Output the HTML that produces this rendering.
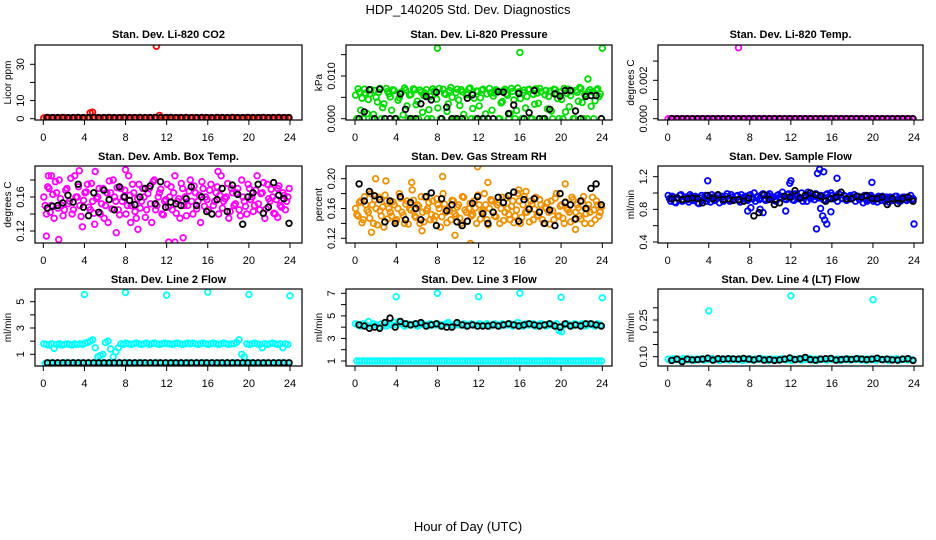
<!DOCTYPE html>
<html><head><meta charset="utf-8">
<style>
html,body{margin:0;padding:0;background:#fff;}
svg{display:block;font-family:"Liberation Sans",Arial,sans-serif;}
</style></head>
<body>
<svg id="chart" width="936" height="540" viewBox="0 0 936 540" xmlns="http://www.w3.org/2000/svg">
<text x="468" y="14" text-anchor="middle" font-size="13">HDP_140205  Std. Dev. Diagnostics</text>
<text x="468" y="531" text-anchor="middle" font-size="13">Hour of Day (UTC)</text>
</svg>
<script>
// ---------- DATA ----------
const xTicks = [0,4,8,12,16,20,24];
const xTickLabels = ["0","4","8","12","16","20","24"];

const co2Red = [0.4,0.6,0.5,0.5,0.6,0.4,0.5,0.5,0.6,0.5,0.4,0.5,0.5,0.6,0.5,0.4,0.5,0.5,3.2,3.6,0.6,0.5,0.4,0.5,0.5,0.6,0.5,0.5,0.4,0.5,0.6,0.5,0.5,0.4,0.5,0.6,0.5,0.5,0.4,0.5,0.5,0.6,0.5,0.5,0.4,1.8,0.5,0.5,0.6,0.5,0.4,0.5,0.5,0.6,0.5,0.5,0.4,0.5,0.6,0.5,0.5,0.4,0.5,0.6,0.5,0.5,0.4,0.5,0.5,0.6,0.5,0.5,0.4,0.5,0.6,0.5,0.5,0.4,0.5,0.6,0.5,0.5,0.4,0.5,0.6,0.5,0.5,0.4,0.5,0.6,0.5,0.5,0.4,0.5,0.6,0.5];
const co2OutT = [11.0]; const co2OutV = [40];
const co2Black = [0.7,0.6,0.6,0.7,0.6,0.6,0.7,0.6,0.6,0.7,0.6,0.6,0.7,0.6,0.6,0.7,0.6,0.6,0.7,0.6,0.6,0.7,0.6,0.6,0.7,0.6,0.6,0.7,0.6,0.6,0.7,0.6,0.6,0.7,0.6,0.6,0.7,0.6,0.6,0.7,0.6,0.6,0.7,0.6,0.6,0.7,0.6,0.6];

const presGreen = [0.0055,0.007,0.002,0,0.006,0.0045,0.0068,0.001,0.005,0.0062,0,0.0035,0.0071,0.0058,0.002,0.0066,0,0.0049,0.0063,0.0072,0.003,0.0055,0,0.0068,0.0041,0.0067,0.0015,0.006,0,0.0052,0.007,0.0064,0.0025,0,0.0069,0.0057,0.0035,0.0073,0,0.0061,0.0044,0.0068,0.001,0.0056,0.007,0,0.0048,0.0065,0.003,0.0067,0,0.0058,0.0071,0.002,0.006,0.0066,0,0.004,0.0069,0.0055,0.0012,0.0064,0,0.0072,0.0047,0.0061,0.0025,0.0068,0,0.0057,0.007,0.0036,0.0063,0,0.0066,0.0052,0.0018,0.0069,0.006,0,0.0045,0.0071,0.0059,0.0028,0.0065,0,0.0062,0.0073,0.0038,0.0056,0,0.0068,0.0063,0.0042,0.007,0.0058];
const presGreen2 = [0,0.0062,0.0048,0.0069,0.0012,0.0058,0,0.0066,0.0039,0.0071,0.0026,0,0.0064,0.0051,0.0068,0,0.0043,0.0061,0.0009,0.0067,0,0.0057,0.007,0.0033,0,0.0062,0.0054,0.0068,0.0021,0,0.0065,0.0046,0.0071,0,0.0059,0.0017,0.0066,0.005,0,0.0069,0.0031,0.0063,0,0.0056,0.0072,0.0024,0,0.0064,0.0049,0.0069,0.0011,0,0.0061,0.0053,0.0068,0,0.0037,0.0066,0.0058,0,0.0071,0.0044,0.0019,0.0063,0,0.0067,0.0052,0.0069,0,0.0034,0.006,0.0071,0,0.0056,0.0023,0.0065,0,0.0068,0.0047,0.0062,0,0.0016,0.0069,0.0054,0,0.0066,0.0041,0.0071,0,0.0058,0.0063,0.0029,0,0.0067,0.0052,0];
const presOutT = [8.0,16.0,22.6,24.0]; const presOutV = [0.0165,0.0155,0.0093,0.0165];
const presBlack = [0,0.0016,0.0068,0,0.0069,0,0,0,0.0058,0.0022,0,0,0.0035,0.0052,0.0044,0.0062,0,0.0027,0,0,0,0.0048,0.0056,0,0,0,0,0.0063,0.0062,0.0012,0.0032,0.0059,0,0.0014,0.0066,0,0,0.0022,0.0058,0.0053,0.0066,0.0066,0.0018,0,0.0052,0.0054,0.0054,0];

const tempMag = [0,0,0,0,0,0,0,0,0,0,0,0,0,0,0,0,0,0,0,0,0,0,0,0,0,0,0,0,0,0,0,0,0,0,0,0,0,0,0,0,0,0,0,0,0,0,0,0,0,0,0,0,0,0,0,0,0,0,0,0,0,0,0,0,0,0,0,0,0,0,0,0,0,0,0,0,0,0,0,0,0,0,0,0,0,0,0,0,0,0,0,0,0,0,0,0];
const tempOutT = [6.9]; const tempOutV = [0.0037];
const tempBlack = [0,0,0,0,0,0,0,0,0,0,0,0,0,0,0,0,0,0,0,0,0,0,0,0,0,0,0,0,0,0,0,0,0,0,0,0,0,0,0,0,0,0,0,0,0,0,0,0];

const boxMag = [0.16,0.14,0.17,0.15,0.135,0.165,0.18,0.15,0.145,0.17,0.155,0.14,0.185,0.16,0.15,0.125,0.165,0.175,0.145,0.155,0.19,0.16,0.14,0.17,0.15,0.13,0.165,0.18,0.155,0.145,0.17,0.16,0.14,0.185,0.15,0.165,0.135,0.175,0.155,0.16,0.145,0.17,0.13,0.18,0.15,0.165,0.14,0.155,0.175,0.16,0.145,0.185,0.155,0.135,0.17,0.16,0.15,0.18,0.14,0.165,0.155,0.13,0.17,0.16,0.145,0.175,0.15,0.165,0.14,0.185,0.155,0.16,0.135,0.17,0.15,0.165,0.145,0.18,0.155,0.14,0.17,0.16,0.15,0.185,0.145,0.165,0.135,0.175,0.155,0.16,0.14,0.17,0.15,0.165,0.145,0.16];
const boxMag2 = [0.15,0.172,0.142,0.163,0.178,0.147,0.158,0.138,0.168,0.152,0.182,0.145,0.16,0.172,0.137,0.156,0.166,0.148,0.176,0.141,0.158,0.17,0.152,0.135,0.165,0.179,0.146,0.16,0.171,0.139,0.155,0.168,0.15,0.162,0.175,0.143,0.158,0.147,0.17,0.136,0.164,0.152,0.178,0.145,0.16,0.169,0.139,0.157,0.148,0.172,0.165,0.141,0.158,0.176,0.15,0.138,0.167,0.155,0.173,0.146,0.162,0.178,0.149,0.157,0.168,0.14,0.155,0.172,0.162,0.147,0.158,0.176,0.143,0.165,0.152,0.17,0.138,0.16,0.149,0.175,0.157,0.143,0.168,0.152,0.164,0.177,0.146,0.158,0.169,0.141,0.157,0.173,0.148,0.162,0.155,0.17];
const boxOutT = [0.3,1.5,3.5,5.0,8.0,8.5,12.2,12.8,13.6,7.1,9.2,0.5,0.8,17.0,22.8]; const boxOutV = [0.114,0.110,0.191,0.128,0.192,0.13,0.107,0.107,0.112,0.118,0.122,0.185,0.185,0.19,0.136];
const boxBlack = [0.147,0.149,0.150,0.153,0.162,0.154,0.175,0.148,0.138,0.165,0.142,0.168,0.157,0.145,0.172,0.160,0.156,0.151,0.160,0.170,0.173,0.152,0.178,0.148,0.154,0.152,0.150,0.158,0.172,0.150,0.160,0.143,0.140,0.157,0.170,0.143,0.174,0.163,0.128,0.160,0.165,0.175,0.141,0.148,0.177,0.162,0.158,0.129];

const rhOrg = [0.16,0.15,0.17,0.145,0.165,0.155,0.18,0.14,0.16,0.175,0.15,0.135,0.17,0.16,0.15,0.165,0.145,0.18,0.155,0.14,0.17,0.16,0.185,0.15,0.165,0.14,0.155,0.175,0.16,0.145,0.17,0.15,0.165,0.135,0.18,0.155,0.16,0.145,0.17,0.15,0.165,0.14,0.175,0.155,0.16,0.15,0.17,0.14,0.165,0.155,0.18,0.145,0.16,0.17,0.15,0.165,0.14,0.175,0.155,0.16,0.145,0.17,0.15,0.18,0.14,0.165,0.155,0.16,0.17,0.145,0.175,0.15,0.165,0.14,0.16,0.155,0.17,0.145,0.18,0.15,0.165,0.14,0.16,0.155,0.175,0.145,0.165,0.15,0.17,0.14,0.16,0.155,0.175,0.145,0.165,0.155];
const rhOrg2 = [0.152,0.168,0.141,0.176,0.158,0.147,0.165,0.172,0.138,0.157,0.162,0.178,0.146,0.155,0.169,0.143,0.16,0.174,0.151,0.166,0.139,0.158,0.171,0.148,0.163,0.176,0.142,0.157,0.168,0.152,0.145,0.173,0.16,0.149,0.166,0.141,0.157,0.171,0.153,0.162,0.147,0.176,0.158,0.143,0.167,0.152,0.161,0.178,0.146,0.157,0.165,0.138,0.172,0.155,0.149,0.168,0.16,0.144,0.174,0.152,0.163,0.141,0.158,0.17,0.148,0.176,0.155,0.142,0.166,0.159,0.151,0.172,0.145,0.162,0.168,0.139,0.157,0.174,0.15,0.163,0.147,0.169,0.158,0.142,0.172,0.155,0.161,0.146,0.176,0.153,0.165,0.14,0.158,0.17,0.15,0.162];
const rhOutT = [2.0,3.0,5.5,8.5,9.7,11.2,11.9,12.9,15.9,16.6,20.4,1.6,6.5,21.4]; const rhOutV = [0.2,0.197,0.195,0.203,0.124,0.113,0.216,0.195,0.185,0.183,0.193,0.128,0.13,0.132];
const rhBlack = [0.193,0.170,0.183,0.177,0.172,0.142,0.170,0.140,0.176,0.145,0.168,0.160,0.145,0.176,0.181,0.137,0.173,0.157,0.165,0.142,0.137,0.143,0.167,0.176,0.153,0.140,0.155,0.175,0.168,0.177,0.182,0.143,0.172,0.159,0.173,0.155,0.140,0.158,0.137,0.180,0.168,0.165,0.146,0.170,0.160,0.187,0.193,0.165];

const flowBlue = [0.97,0.9,0.95,0.88,0.93,0.98,0.91,0.95,0.89,0.96,0.92,0.94,0.87,0.97,0.93,0.9,0.95,0.98,0.91,0.94,0.88,0.96,0.93,0.99,0.9,0.95,0.92,0.97,0.89,0.94,0.96,0.91,0.98,0.93,0.9,0.96,0.94,0.99,0.91,0.97,0.93,0.95,0.9,0.98,0.94,0.96,0.92,0.99,0.95,0.91,0.97,0.93,1.0,0.94,0.9,0.97,0.95,0.92,0.98,0.94,0.96,0.91,0.99,0.93,0.97,0.95,0.9,0.98,0.93,0.96,0.92,0.97,0.94,0.9,0.96,0.93,0.88,0.95,0.92,0.97,0.9,0.94,0.96,0.91,0.93,0.95,0.89,0.94,0.92,0.96,0.9,0.93,0.95,0.91,0.94,0.92];
const flowBlue2 = [0.93,0.96,0.89,0.94,0.97,0.9,0.95,0.92,0.98,0.91,0.96,0.88,0.94,0.91,0.97,0.93,0.89,0.95,0.92,0.97,0.94,0.9,0.96,0.92,0.98,0.93,0.96,0.91,0.98,0.95,0.92,0.97,0.94,1.0,0.95,0.92,0.98,0.93,0.96,0.99,0.94,0.91,0.97,0.95,1.01,0.93,0.98,0.95,0.92,0.99,0.96,0.94,0.9,0.98,1.01,0.93,0.96,0.99,0.94,0.97,0.92,0.98,0.95,1.0,0.93,0.96,0.99,0.94,0.97,0.91,0.95,0.93,0.98,0.96,0.92,0.95,0.97,0.9,0.93,0.95,0.92,0.89,0.94,0.96,0.9,0.93,0.95,0.91,0.96,0.93,0.9,0.95,0.92,0.94,0.97,0.93];
const flowOutT = [3.9,7.8,8.1,9.0,9.3,11.5,11.9,12.0,14.6,14.8,14.9,15.1,15.2,15.3,15.5,15.9,16.5,19.9,24.0,14.5]; const flowOutV = [1.15,0.78,0.82,0.8,0.76,0.78,1.12,1.15,1.24,1.29,0.81,0.72,1.26,0.67,0.62,0.77,1.18,1.13,0.62,0.56];
const flowBlack = [0.93,0.94,0.92,0.93,0.94,0.93,0.88,0.97,0.93,0.98,0.92,0.93,0.91,0.92,0.90,0.94,0.72,0.76,0.98,0.92,0.86,0.88,0.96,0.95,1.03,0.94,0.97,1.00,0.98,0.96,0.90,0.93,0.95,1.01,0.93,0.93,0.96,0.95,0.97,0.93,0.93,0.95,0.86,0.93,0.87,0.93,0.95,0.90];

const l2High = [1.8,1.75,1.7,1.8,1.45,1.75,1.8,1.7,1.75,1.8,1.75,1.7,1.8,1.75,1.8,1.75,1.85,1.9,2.0,2.1,1.5,0.8,0.9,1.0,1.9,2.0,1.4,0.8,1.2,1.5,1.8,1.75,1.85,1.8,1.75,1.8,1.85,1.8,1.75,1.8,1.85,1.75,1.8,1.85,1.8,1.75,1.8,1.85,1.8,1.8,1.75,1.8,1.85,1.8,1.75,1.8,1.85,1.8,1.85,1.8,1.75,1.8,1.85,1.8,1.75,1.8,1.85,1.8,1.75,1.8,1.85,1.8,1.75,1.8,1.8,1.9,2.1,1.0,0.8,1.8,1.75,1.8,1.85,1.8,1.75,1.5,1.8,1.75,1.8,1.85,1.8,1.75,1.8,1.5,1.8,1.75];
const l2Low = [0.3,0.3,0.35,0.3,0.3,0.35,0.3,0.3,0.35,0.3,0.3,0.35,0.3,0.3,0.35,0.3,0.3,0.35,0.3,0.3,0.35,0.3,0.3,0.35,0.3,0.3,0.35,0.3,0.3,0.35,0.3,0.3,0.35,0.3,0.3,0.35,0.3,0.3,0.35,0.3,0.3,0.35,0.3,0.3,0.35,0.3,0.3,0.35,0.3,0.3,0.35,0.3,0.3,0.35,0.3,0.3,0.35,0.3,0.3,0.35,0.3,0.3,0.35,0.3,0.3,0.35,0.3,0.3,0.35,0.3,0.3,0.35,0.3,0.3,0.35,0.3,0.3,0.35,0.3,0.3,0.35,0.3,0.3,0.35,0.3,0.3,0.35,0.3,0.3,0.35,0.3,0.3,0.35,0.3,0.3,0.35];
const l2OutT = [4,8,12,16,20,24]; const l2OutV = [5.55,5.7,5.5,5.72,5.55,5.45];
const l2Black = [0.35,0.35,0.35,0.35,0.35,0.35,0.35,0.35,0.35,0.35,0.35,0.35,0.35,0.35,0.35,0.35,0.35,0.35,0.35,0.35,0.35,0.35,0.35,0.35,0.35,0.35,0.35,0.35,0.35,0.35,0.35,0.35,0.35,0.35,0.35,0.35,0.35,0.35,0.35,0.35,0.35,0.35,0.35,0.35,0.35,0.35,0.35,0.35];

const l3High = [4.3,4.2,4.1,4.3,4.2,4.5,4.1,4.3,4.2,4.0,4.3,4.2,4.1,4.3,4.2,4.4,4.2,4.5,4.3,4.1,4.3,4.2,4.2,4.3,4.1,4.2,4.3,4.2,4.1,4.3,4.2,4.2,4.3,4.1,4.2,4.3,4.4,4.2,4.1,4.3,4.2,4.2,4.3,4.1,4.2,4.3,4.2,4.1,4.3,4.2,4.2,4.3,4.1,4.2,4.3,4.2,4.1,4.3,4.2,4.2,4.3,4.1,4.2,4.4,4.2,4.1,4.3,4.2,4.2,4.3,4.1,4.2,4.3,4.2,4.1,4.3,4.2,4.2,4.3,3.7,3.6,4.2,4.3,4.2,4.1,4.3,4.2,4.2,4.3,4.1,4.2,4.3,4.2,4.1,4.3,4.2];
const l3Low = [1,1,1,1,1,1,1,1,1,1,1,1,1,1,1,1,1,1,1,1,1,1,1,1,1,1,1,1,1,1,1,1,1,1,1,1,1,1,1,1,1,1,1,1,1,1,1,1,1,1,1,1,1,1,1,1,1,1,1,1,1,1,1,1,1,1,1,1,1,1,1,1,1,1,1,1,1,1,1,1,1,1,1,1,1,1,1,1,1,1,1,1,1,1,1,1];
const l3OutT = [4,8,12,16,20,24]; const l3OutV = [6.7,7.0,6.7,7.0,6.65,6.6];
const l3Black = [4.2,4.1,3.9,4.0,3.9,4.4,4.8,4.0,4.5,4.3,4.2,4.3,4.4,4.1,4.2,4.3,4.1,4.0,4.0,4.4,4.2,4.1,4.2,4.1,4.1,4.1,4.2,4.1,4.2,4.3,4.2,4.1,4.2,4.3,4.2,4.1,4.2,4.3,4.1,4.0,4.3,4.1,4.2,4.1,4.3,4.3,4.2,4.1];

const l4Cyan = [0.09,0.085,0.092,0.088,0.09,0.086,0.093,0.089,0.087,0.091,0.085,0.09,0.088,0.092,0.086,0.09,0.089,0.093,0.087,0.09,0.085,0.091,0.088,0.09,0.086,0.092,0.089,0.087,0.091,0.085,0.09,0.088,0.092,0.086,0.09,0.089,0.093,0.087,0.09,0.085,0.091,0.088,0.09,0.086,0.092,0.089,0.087,0.091,0.085,0.09,0.088,0.092,0.086,0.09,0.089,0.093,0.087,0.09,0.085,0.091,0.088,0.09,0.086,0.092,0.089,0.087,0.091,0.085,0.09,0.088,0.092,0.086,0.09,0.089,0.093,0.087,0.09,0.085,0.091,0.088,0.09,0.086,0.092,0.089,0.087,0.091,0.085,0.09,0.088,0.092,0.086,0.09,0.089,0.087,0.091,0.088];
const l4OutT = [4.0,12.0,20.0]; const l4OutV = [0.287,0.349,0.333];
const l4Black = [0.085,0.09,0.08,0.09,0.087,0.088,0.09,0.094,0.086,0.092,0.09,0.092,0.091,0.09,0.093,0.09,0.087,0.092,0.086,0.088,0.085,0.087,0.09,0.095,0.088,0.091,0.097,0.088,0.086,0.09,0.092,0.093,0.086,0.088,0.09,0.089,0.092,0.09,0.088,0.09,0.094,0.088,0.09,0.087,0.086,0.09,0.092,0.085];

// ---------- LAYOUT ----------
const cols = [{L:35,R:302,x0:43.3,x24:290},{L:346,R:612,x0:355,x24:602.3},{L:658,R:923,x0:667.7,x24:914}];
const rows = [{T:45,B:120,title:34},{T:166,B:243,title:156},{T:289,B:366,title:279}];
const colorMap = {red:"#ff0000",green:"#00dd00",mag:"#ff00ff",org:"#f09000",blue:"#0000ff",cyan:"#00ffff"};

const panels = [
 {name:"co2",title:"Stan. Dev. Li-820 CO2",ylab:"Licor ppm",c:0,r:0,v0:0,p0:118.7,v1:30,p1:64.3,ticks:[0,10,20,30],labs:{0:"0",10:"10",30:"30"},col:"red",series:[co2Red],outT:co2OutT,outV:co2OutV,black:co2Black},
 {name:"pressure",title:"Stan. Dev. Li-820 Pressure",ylab:"kPa",c:1,r:0,v0:0,p0:118.7,v1:0.01,p1:76,ticks:[0,0.005,0.01,0.015],labs:{0:"0.000",0.01:"0.010"},col:"green",series:[presGreen,presGreen2],outT:presOutT,outV:presOutV,black:presBlack},
 {name:"temp",title:"Stan. Dev. Li-820 Temp.",ylab:"degrees C",c:2,r:0,v0:0,p0:118.7,v1:0.002,p1:80.3,ticks:[0,0.001,0.002,0.003],labs:{0:"0.000",0.002:"0.002"},col:"mag",series:[tempMag],outT:tempOutT,outV:tempOutV,black:tempBlack},
 {name:"box-temp",title:"Stan. Dev. Amb. Box Temp.",ylab:"degrees C",c:0,r:1,v0:0.12,p0:231,v1:0.16,p1:197,ticks:[0.12,0.14,0.16,0.18],labs:{0.12:"0.12",0.16:"0.16"},col:"mag",series:[boxMag,boxMag2],outT:boxOutT,outV:boxOutV,black:boxBlack},
 {name:"rh",title:"Stan. Dev. Gas Stream RH",ylab:"percent",c:1,r:1,v0:0.12,p0:238.3,v1:0.2,p1:178.7,ticks:[0.12,0.14,0.16,0.18,0.2],labs:{0.12:"0.12",0.16:"0.16",0.2:"0.20"},col:"org",series:[rhOrg,rhOrg2],outT:rhOutT,outV:rhOutV,black:rhBlack},
 {name:"sample-flow",title:"Stan. Dev. Sample Flow",ylab:"ml/min",c:2,r:1,v0:0.4,p0:242,v1:1.2,p1:176.7,ticks:[0.4,0.6,0.8,1.0,1.2],labs:{0.4:"0.4",0.8:"0.8",1.2:"1.2"},col:"blue",series:[flowBlue,flowBlue2],outT:flowOutT,outV:flowOutV,black:flowBlack},
 {name:"line2",title:"Stan. Dev. Line 2 Flow",ylab:"ml/min",c:0,r:2,v0:1,p0:354.3,v1:5,p1:301.7,ticks:[1,2,3,4,5],labs:{1:"1",3:"3",5:"5"},col:"cyan",series:[l2High,l2Low],outT:l2OutT,outV:l2OutV,black:l2Black},
 {name:"line3",title:"Stan. Dev. Line 3 Flow",ylab:"ml/min",c:1,r:2,v0:1,p0:361,v1:7,p1:293.3,ticks:[1,2,3,4,5,6,7],labs:{1:"1",3:"3",5:"5",7:"7"},col:"cyan",series:[l3High,l3Low],outT:l3OutT,outV:l3OutV,black:l3Black},
 {name:"line4",title:"Stan. Dev. Line 4 (LT) Flow",ylab:"ml/min",c:2,r:2,v0:0.1,p0:356.7,v1:0.25,p1:320,ticks:[0.1,0.15,0.2,0.25,0.3],labs:{0.1:"0.10",0.25:"0.25"},col:"cyan",series:[l4Cyan],outT:l4OutT,outV:l4OutV,black:l4Black}
];

const NS = "http://www.w3.org/2000/svg";
const svg = document.getElementById("chart");
function el(tag, parent){ const e=document.createElementNS(NS,tag); parent.appendChild(e); return e; }

panels.forEach(p=>{
  const C=cols[p.c], R=rows[p.r];
  const xs = h => C.x0 + (C.x24-C.x0)*h/24;
  const ys = v => p.p0 + (p.p1-p.p0)*(v-p.v0)/(p.v1-p.v0);
  const g = el("g", svg);
  
  

  const clipId = "clip-"+p.name;
  const cp = el("clipPath", g); cp.setAttribute("id",clipId);
  const cr = el("rect", cp); cr.setAttribute("x",C.L); cr.setAttribute("y",R.T); cr.setAttribute("width",C.R-C.L); cr.setAttribute("height",R.B-R.T);

  const pts = el("g", g);
  
  
  pts.setAttribute("clip-path","url(#"+clipId+")");
  const color = colorMap[p.col];
  function dot(t,v,stroke,parent){
    const c = el("circle", parent);
    
    
    c.setAttribute("cx",xs(t).toFixed(1)); c.setAttribute("cy",ys(v).toFixed(1));
    c.setAttribute("r",2.8); c.setAttribute("fill","none");
    c.setAttribute("stroke",stroke); c.setAttribute("stroke-width",1.8);
  }
  p.series.forEach((arr,si)=>{
    const n = arr.length;
    arr.forEach((v,i)=>{ dot((i + (si%2?0.5:0)+0.2)*24/n, v, color, pts); });
  });
  p.outT.forEach((t,i)=>dot(t,p.outV[i],color,pts));
  p.black.forEach((v,i)=>dot((i+1)*24/p.black.length - 0.1, v, "#000", pts));

  const box = el("rect", g);
  
  
  box.setAttribute("x",C.L); box.setAttribute("y",R.T); box.setAttribute("width",C.R-C.L); box.setAttribute("height",R.B-R.T);
  box.setAttribute("fill","none"); box.setAttribute("stroke","#000"); box.setAttribute("stroke-width",1.2);

  const title = el("text", g);
  
  
  title.setAttribute("x",(C.L+C.R)/2); title.setAttribute("y",R.title+4);
  title.setAttribute("text-anchor","middle"); title.setAttribute("font-size","11"); title.setAttribute("font-weight","bold");
  title.textContent = p.title;

  const xa = el("g", g);
  
  
  const xl = el("line", xa);
  xl.setAttribute("x1",xs(0)); xl.setAttribute("x2",xs(24)); xl.setAttribute("y1",R.B); xl.setAttribute("y2",R.B); xl.setAttribute("stroke","#000");
  xTicks.forEach((t,i)=>{
    const tk = el("line", xa);
    tk.setAttribute("x1",xs(t)); tk.setAttribute("x2",xs(t)); tk.setAttribute("y1",R.B); tk.setAttribute("y2",R.B+5); tk.setAttribute("stroke","#000");
    const tl = el("text", xa);
    
    
    tl.setAttribute("x",xs(t)); tl.setAttribute("y",R.B+21); tl.setAttribute("text-anchor","middle"); tl.setAttribute("font-size","11");
    tl.textContent = xTickLabels[i];
  });

  const ya = el("g", g);
  
  
  const yl = el("line", ya);
  yl.setAttribute("x1",C.L); yl.setAttribute("x2",C.L); yl.setAttribute("y1",ys(p.ticks[0])); yl.setAttribute("y2",ys(p.ticks[p.ticks.length-1])); yl.setAttribute("stroke","#000");
  p.ticks.forEach(t=>{
    const y = ys(t);
    const tk = el("line", ya);
    tk.setAttribute("x1",C.L-5); tk.setAttribute("x2",C.L); tk.setAttribute("y1",y); tk.setAttribute("y2",y); tk.setAttribute("stroke","#000");
    const lab = p.labs[t];
    if(lab!==undefined){
      const tl = el("text", ya);
      
      
      const x = C.L-11;
      tl.setAttribute("x",x); tl.setAttribute("y",y); tl.setAttribute("text-anchor","middle"); tl.setAttribute("font-size","11");
      tl.setAttribute("transform","rotate(-90 "+x+" "+y+")");
      tl.textContent = lab;
    }
  });
  const yt = el("text", ya);
  
  
  const yx = C.L-24, yy=(R.T+R.B)/2;
  yt.setAttribute("x",yx); yt.setAttribute("y",yy); yt.setAttribute("text-anchor","middle"); yt.setAttribute("font-size","10");
  yt.setAttribute("transform","rotate(-90 "+yx+" "+yy+")");
  yt.textContent = p.ylab;
});
</script>
</body></html>
